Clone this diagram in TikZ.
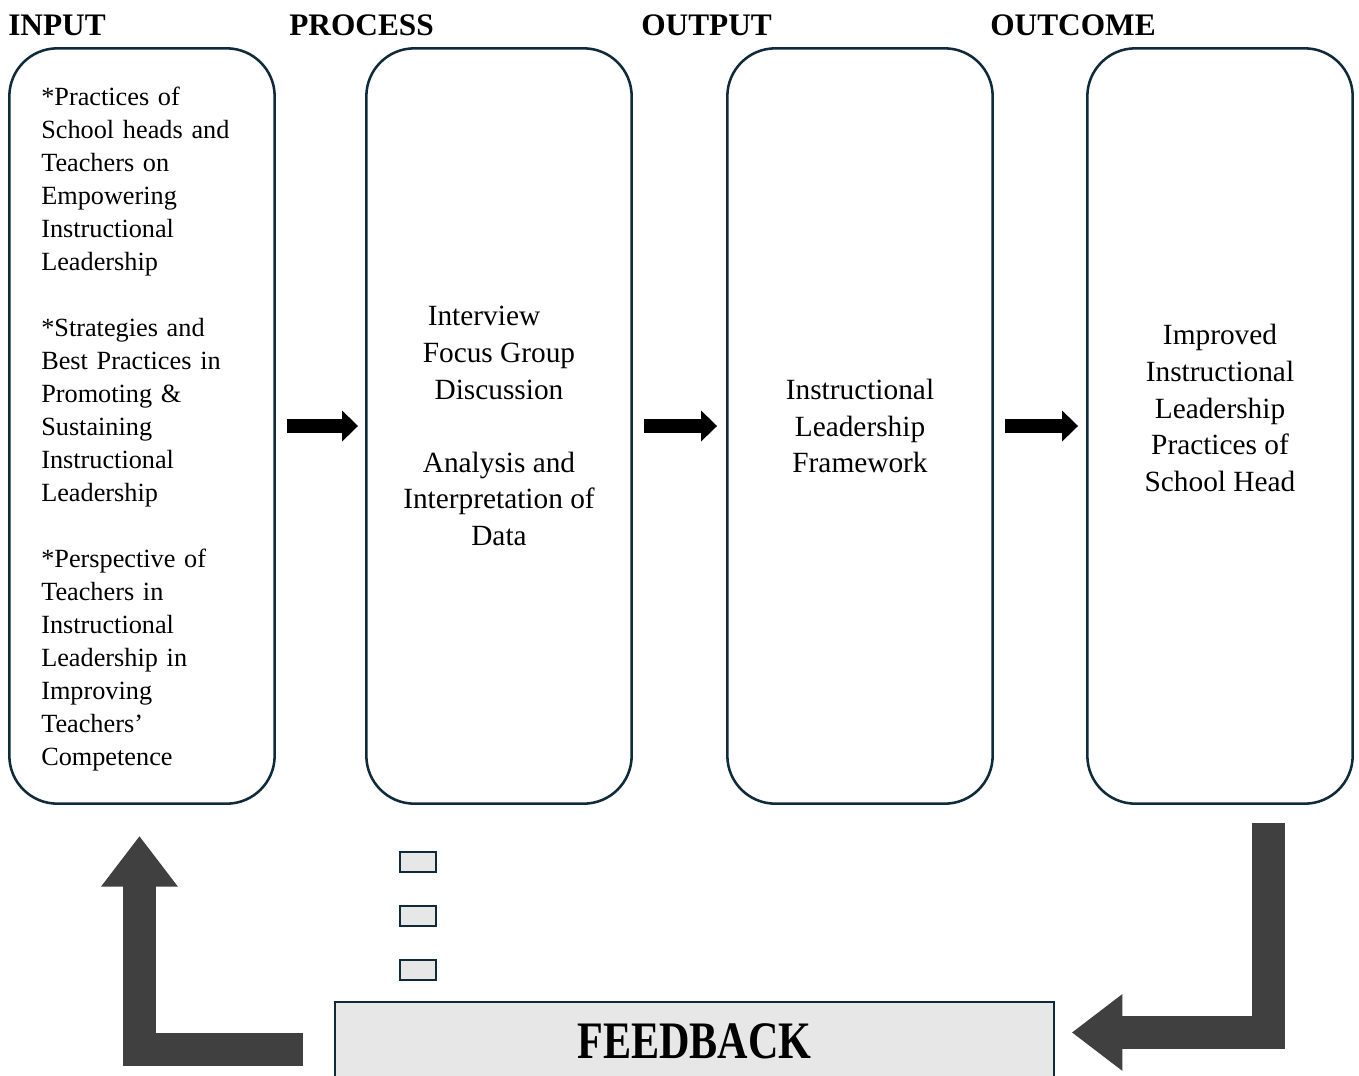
\documentclass[tikz,border=0pt]{standalone}
\usepackage{fontspec}
\usepackage{graphicx}
\setmainfont{Liberation Serif}
\usetikzlibrary{arrows.meta}
\definecolor{navy}{HTML}{0E2A3B}
\definecolor{dgray}{HTML}{404040}
\definecolor{lgray}{HTML}{E7E7E7}
\begin{document}
\begin{tikzpicture}[x=0.75pt,y=-0.75pt,
  stage/.style={draw=navy, line width=1.9pt, rounded corners=36pt,
    minimum width=199pt, minimum height=566.5pt, inner sep=0pt},
  header/.style={font=\fontsize{23.5}{28}\selectfont\bfseries, anchor=base west, inner sep=0pt},
  flow/.style={line width=10.5pt, -{Triangle[length=12pt,width=22.5pt]}},
  back/.style={draw=dgray, line width=24.75pt, line join=miter, -{Triangle[length=38pt,width=55pt]}},
  sq/.style={draw=navy, fill=lgray, line width=1.5pt, minimum width=27pt, minimum height=15pt, inner sep=0pt}
]
\useasboundingbox (0,0) rectangle (1359,1075);
\fill[white] (0,0) rectangle (1359,1075);

\node[header] (h1) at (8,35) {INPUT};
\node[header] (h2) at (289,35) {PROCESS};
\node[header] (h3) at (641,35) {OUTPUT};
\node[header] (h4) at (990,35) {OUTCOME};

\node[stage] (b1) at (142,426) {};
\node[anchor=west, text width=151.5pt, align=left, inner sep=0pt, font=\fontsize{19.7}{24.75}\selectfont] (t1) at (41,429)
 {*Practices of\\School heads and\\Teachers on\\Empowering\\Instructional\\Leadership\\[24.75pt]*Strategies and\\Best Practices in\\Promoting \&\\Sustaining\\Instructional\\Leadership\\[24.75pt]*Perspective of\\Teachers in\\Instructional\\Leadership in\\Improving\\Teachers’\\Competence};
\node[stage, align=center, font=\fontsize{22}{27.4}\selectfont] (b2) at (499,426)
 {Interview\rule{22.5pt}{0pt}\\Focus Group\\Discussion\\[27.4pt]Analysis and\\Interpretation of\\Data};
\node[stage, align=center, font=\fontsize{22}{27.4}\selectfont] (b3) at (860,426)
 {Instructional\\Leadership\\Framework};
\node[stage] (b4) at (1220,426) {};
\node[align=center, inner sep=0pt, font=\fontsize{22}{27.4}\selectfont] (t4) at (1220,408)
 {Improved\\Instructional\\Leadership\\Practices of\\School Head};

\draw[flow] ([xshift=8.25pt]b1.east) -- ([xshift=-5.25pt]b2.west);
\draw[flow] ([xshift=8.25pt]b2.east) -- ([xshift=-6.75pt]b3.west);
\draw[flow] ([xshift=8.25pt]b3.east) -- ([xshift=-6pt]b4.west);

\node[sq] (s1) at (418,862) {};
\node[sq] (s2) at (418,916) {};
\node[sq] (s3) at (418,970) {};

\node[draw=navy, fill=lgray, line width=1.1pt, minimum width=539.25pt, minimum height=58.5pt, inner sep=0pt] (fb) at (694.5,1041)
 {\scalebox{0.8}[1]{\fontsize{39.5}{42}\selectfont\bfseries FEEDBACK}};

\coordinate (fbL) at ([xshift=-23.25pt,yshift=-6pt]fb.west);
\coordinate (fbR) at ([xshift=12.75pt,yshift=6.4pt]fb.east);
\coordinate (b4out) at ([xshift=36pt,yshift=-13.5pt]b4.south);
\draw[back] (fbL) -| ([xshift=-1.9pt,yshift=-23.25pt]b1.south);
\draw[back] (b4out) |- (fbR);
\end{tikzpicture}
\end{document}
